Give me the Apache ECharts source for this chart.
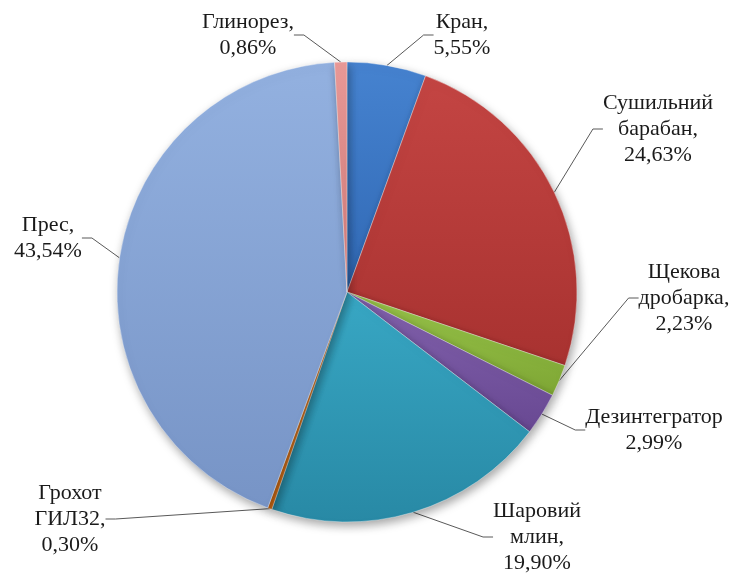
<!DOCTYPE html>
<html>
<head>
<meta charset="utf-8">
<script src="https://cdn.jsdelivr.net/npm/echarts@6/dist/echarts.min.js"></script>
<style>
  html, body { margin: 0; padding: 0; background: #ffffff; }
  #chart { width: 732px; height: 576px; }
</style>
</head>
<body>
<div id="chart"></div>
<script>
// Energy share by equipment, %
const categories = ['Кран', 'Сушильний барабан', 'Щекова дробарка', 'Дезинтегратор',
  'Шаровий млин', 'Грохот ГИЛ32', 'Прес', 'Глинорез'];
const shares = [5.55, 24.63, 2.23, 2.99, 19.90, 0.30, 43.54, 0.86];
// label headings (line-broken as drawn next to each slice)
const labelHeads = ['Кран,', 'Сушильний\nбарабан,', 'Щекова\nдробарка,', 'Дезинтегратор',
  'Шаровий\nмлин,', 'Грохот\nГИЛ32,', 'Прес,', 'Глинорез,'];

// slice colours: top and bottom of each vertical gradient
const colorTop = ['#4683d0', '#c44543', '#98c44a', '#8262ad', '#38a7c4', '#ec8a34', '#93b1e0', '#ea9a98'];
const colorBottom = ['#3068b4', '#a83230', '#7ea634', '#684892', '#2889a5', '#cf6a14', '#7794c6', '#d07a78'];

// label anchor points (centre of each text block)
const labelPos = [
  [462, 35], [658, 129], [684, 298], [654, 430],
  [537, 537], [70, 519], [48, 238], [248, 35]
];

const data = categories.map((name, i) => ({
  name: name,
  value: shares[i],
  itemStyle: {
    color: {
      type: 'linear', x: 0, y: 0, x2: 0, y2: 1,
      colorStops: [{ offset: 0, color: colorTop[i] }, { offset: 1, color: colorBottom[i] }]
    }
  }
}));

const chart = echarts.init(document.getElementById('chart'), null, { renderer: 'canvas' });
chart.setOption({
  animation: false,
  backgroundColor: '#ffffff',
  series: [{
    type: 'pie',
    center: [347, 292],
    radius: 230,
    startAngle: 90,
    clockwise: true,
    data: data,
    itemStyle: {
      borderColor: 'rgba(255,255,255,0.35)',
      borderWidth: 1,
      shadowBlur: 10,
      shadowOffsetX: 2,
      shadowOffsetY: 4,
      shadowColor: 'rgba(0,0,0,0.35)'
    },
    label: {
      show: true,
      position: 'outside',
      fontFamily: 'Liberation Serif',
      fontSize: 22,
      lineHeight: 26,
      color: '#1a1a1a',
      align: 'center',
      formatter: p => labelHeads[p.dataIndex] + '\n' + p.value.toFixed(2).replace('.', ',') + '%'
    },
    labelLine: {
      show: true,
      length: 10,
      length2: 10,
      lineStyle: { color: '#595959', width: 1 }
    },
    labelLayout: params => ({
      x: labelPos[params.dataIndex][0],
      y: labelPos[params.dataIndex][1],
      align: 'center',
      verticalAlign: 'middle'
    }),
    emphasis: { disabled: true }
  }]
});
</script>
</body>
</html>
